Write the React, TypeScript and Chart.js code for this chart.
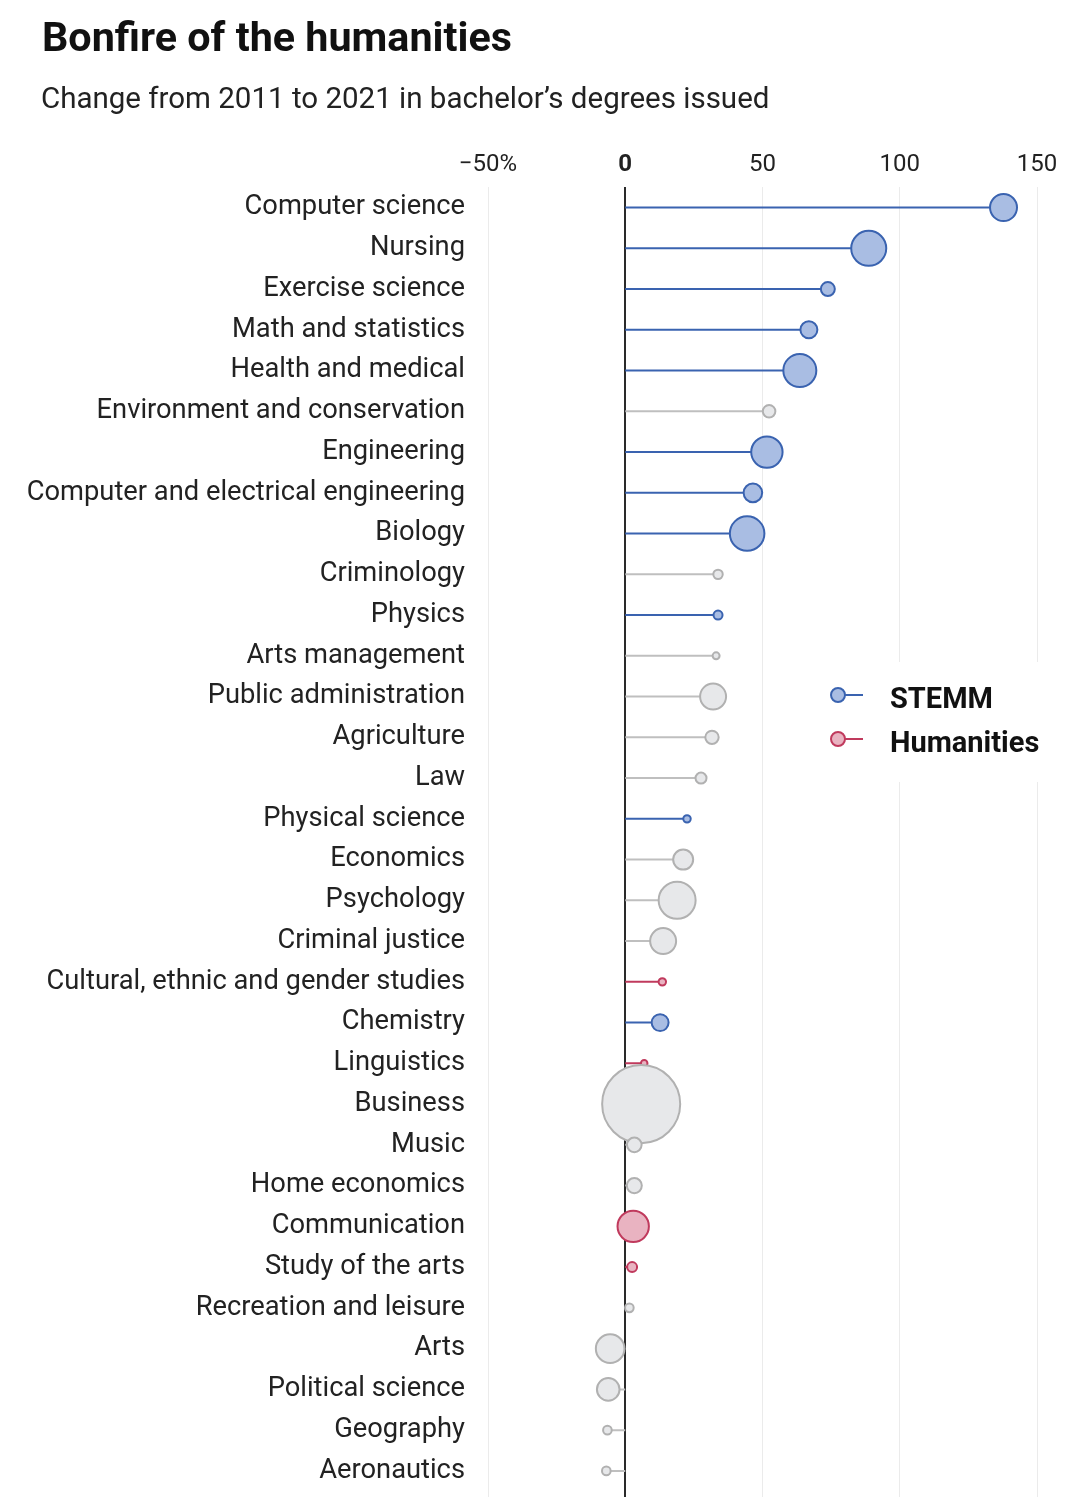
import React, { useEffect, useRef } from 'react';
import { Chart, registerables } from 'chart.js';

Chart.register(...registerables);

// ---- Data ----
const categories: string[] = [
  'Computer science',
  'Nursing',
  'Exercise science',
  'Math and statistics',
  'Health and medical',
  'Environment and conservation',
  'Engineering',
  'Computer and electrical engineering',
  'Biology',
  'Criminology',
  'Physics',
  'Arts management',
  'Public administration',
  'Agriculture',
  'Law',
  'Physical science',
  'Economics',
  'Psychology',
  'Criminal justice',
  'Cultural, ethnic and gender studies',
  'Chemistry',
  'Linguistics',
  'Business',
  'Music',
  'Home economics',
  'Communication',
  'Study of the arts',
  'Recreation and leisure',
  'Arts',
  'Political science',
  'Geography',
  'Aeronautics',
];

// % change in bachelor's degrees, 2011 -> 2021
const changePct: number[] = [
  137.8, 88.7, 73.8, 66.9, 63.6, 52.4, 51.6, 46.5, 44.4, 33.8, 33.8, 33.1, 32.0, 31.6, 27.6, 22.5,
  21.1, 18.9, 13.8, 13.5, 12.7, 6.9, 5.8, 3.3, 3.3, 2.9, 2.5, 1.5, -5.5, -6.2, -6.5, -6.9,
];

// Group of each field
const groups: string[] = [
  'STEMM', 'STEMM', 'STEMM', 'STEMM', 'STEMM', 'Other', 'STEMM', 'STEMM', 'STEMM', 'Other', 'STEMM',
  'Other', 'Other', 'Other', 'Other', 'STEMM', 'Other', 'Other', 'Other', 'Humanities', 'STEMM',
  'Humanities', 'Other', 'Other', 'Other', 'Humanities', 'Humanities', 'Other', 'Other', 'Other',
  'Other', 'Other',
];

// Relative number of degrees (thousands)
const degreesK: number[] = [
  49, 80, 14.9, 21, 71.5, 12.4, 65, 24.8, 78, 7.6, 7.1, 4.7, 45.7, 13.8, 9.9, 5.2, 28.2, 88.7, 45.7,
  5.2, 21, 4.3, 374, 16.1, 16.9, 65, 8.4, 6.6, 54.6, 35.3, 6.6, 6.6,
];

const xTicks: number[] = [-50, 0, 50, 100, 150];
const legendLabels: string[] = ['STEMM', 'Humanities'];

// ---- Styles ----
const FONT = 'Roboto, "Noto Sans", Arial, sans-serif';
const COLORS: Record<string, { line: string; fill: string; border: string }> = {
  STEMM: { line: '#3a63b0', fill: '#a9bde3', border: '#3a63b0' },
  Humanities: { line: '#c03a5d', fill: '#e9b3c1', border: '#c03a5d' },
  Other: { line: '#bfbfbf', fill: '#e7e8ea', border: '#b1b1b1' },
};

const radiusOf = (n: number) => 2.07 * Math.sqrt(n) - 1;

const legendPlugin = {
  id: 'customLegend',
  afterDraw(chart: any) {
    const ctx = chart.ctx as CanvasRenderingContext2D;
    ctx.save();
    ctx.fillStyle = '#ffffff';
    ctx.fillRect(812, 662, 250, 120);
    legendLabels.forEach((label, i) => {
      const c = COLORS[label];
      const cy = 695 + i * 44;
      ctx.strokeStyle = c.line;
      ctx.lineWidth = 2;
      ctx.beginPath();
      ctx.moveTo(838, cy);
      ctx.lineTo(863, cy);
      ctx.stroke();
      ctx.beginPath();
      ctx.arc(838, cy, 7, 0, Math.PI * 2);
      ctx.fillStyle = c.fill;
      ctx.fill();
      ctx.stroke();
      ctx.fillStyle = '#111';
      ctx.font = `bold 29px ${FONT}`;
      ctx.textBaseline = 'alphabetic';
      ctx.textAlign = 'left';
      ctx.fillText(label, 890, cy + 12.5);
    });
    ctx.restore();
  },
};

export default function App() {
  const canvasRef = useRef<HTMLCanvasElement | null>(null);

  useEffect(() => {
    if (!canvasRef.current) return;
    const stemDatasets = categories.map((_, i) => ({
      type: 'line' as const,
      data: [
        { x: 0, y: i },
        { x: changePct[i], y: i },
      ],
      borderColor: COLORS[groups[i]].line,
      borderWidth: 2,
      pointRadius: 0,
      pointHoverRadius: 0,
      fill: false,
      order: 2,
    }));
    const bubbleDataset = {
      type: 'bubble' as const,
      data: categories.map((_, i) => ({ x: changePct[i], y: i, r: radiusOf(degreesK[i]) })),
      backgroundColor: groups.map((g) => COLORS[g].fill),
      borderColor: groups.map((g) => COLORS[g].border),
      borderWidth: 2,
      order: 1,
    };

    const chart = new Chart(canvasRef.current, {
      type: 'bubble',
      data: { datasets: [...stemDatasets, bubbleDataset] as any },
      options: {
        animation: false,
        responsive: false,
        maintainAspectRatio: false,
        layout: { padding: { top: 142.4, right: 43, left: 0, bottom: 0 } },
        plugins: { legend: { display: false }, tooltip: { enabled: false }, title: { display: false } },
        scales: {
          x: {
            type: 'linear',
            position: 'top',
            min: -50,
            max: 150,
            afterBuildTicks: (s: any) => {
              s.ticks = xTicks.map((v) => ({ value: v }));
            },
            grid: {
              color: (c: any) => (c.tick && c.tick.value === 0 ? '#2a2a2a' : '#ebebeb'),
              lineWidth: (c: any) => (c.tick && c.tick.value === 0 ? 2 : 1),
              drawTicks: false,
            },
            border: { display: false },
            ticks: {
              callback: (v: any) => (v === -50 ? '\u221250%' : String(v)),
              color: '#222',
              padding: 8,
              maxRotation: 0,
              font: (c: any) => ({
                family: FONT,
                size: 24,
                weight: c.tick && c.tick.value === 0 ? 'bold' : 'normal',
              }),
            },
          },
          y: {
            type: 'linear',
            reverse: true,
            min: -0.5,
            max: 32.18,
            afterBuildTicks: (s: any) => {
              s.ticks = categories.map((_, i) => ({ value: i }));
            },
            afterFit: (s: any) => {
              s.width = 488;
            },
            grid: { display: false, drawTicks: false },
            border: { display: false },
            ticks: {
              autoSkip: false,
              callback: (v: any) => categories[v] ?? '',
              color: '#222',
              padding: 23,
              font: { family: FONT, size: 27.3 },
            },
          },
        },
      },
      plugins: [legendPlugin],
    });
    return () => chart.destroy();
  }, []);

  return (
    <div
      style={{
        position: 'absolute',
        top: 0,
        left: 0,
        width: 1080,
        height: 1497,
        overflow: 'hidden',
        background: '#fff',
        fontFamily: FONT,
      }}
    >
      <canvas ref={canvasRef} width={1080} height={1560} style={{ position: 'absolute', top: 0, left: 0 }} />
      <div
        style={{
          position: 'absolute',
          left: 42,
          top: 17,
          fontSize: 41.3,
          lineHeight: 1,
          fontWeight: 'bold',
          color: '#111',
          whiteSpace: 'nowrap',
        }}
      >
        Bonfire of the humanities
      </div>
      <div
        style={{
          position: 'absolute',
          left: 41,
          top: 84,
          fontSize: 29.5,
          lineHeight: 1,
          color: '#222',
          whiteSpace: 'nowrap',
        }}
      >
        Change from 2011 to 2021 in bachelor’s degrees issued
      </div>
    </div>
  );
}
